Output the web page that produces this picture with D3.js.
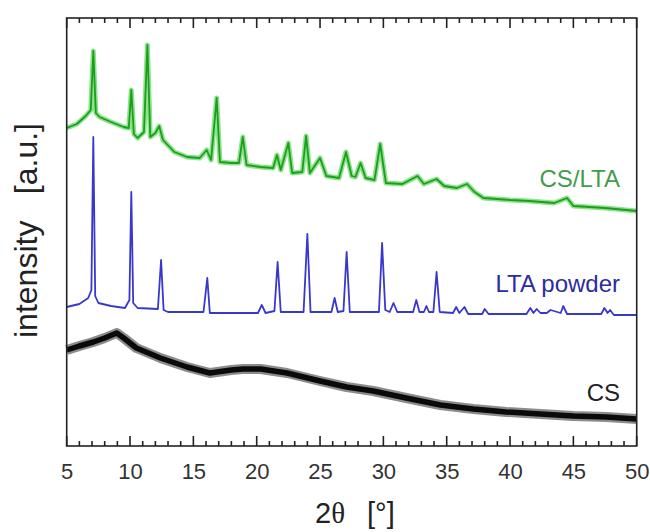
<!DOCTYPE html>
<html>
<head>
<meta charset="utf-8">
<script src="https://cdn.jsdelivr.net/npm/d3@7"></script>
<style>
  html, body { margin: 0; padding: 0; background: #fff; }
  svg { display: block; }
</style>
</head>
<body>
<svg id="chart" width="650" height="532"></svg>
<script>
// ---- data (2θ in degrees, intensity in arbitrary units) ----
const xTickValues = [5, 10, 15, 20, 25, 30, 35, 40, 45, 50];

const seriesNames = ["CS/LTA", "LTA powder", "CS"];

const csltaTheta = [5.0, 5.8, 6.5, 6.9, 7.1, 7.3, 7.6, 8.5, 9.5, 9.9, 10.1, 10.3, 10.6, 11.1, 11.37, 11.6, 12.0, 12.3, 12.6, 13.5, 14.5, 15.5, 16.05, 16.4, 16.84, 17.1, 18.0, 18.6, 18.9, 19.2, 20.3, 21.3, 21.6, 21.9, 22.5, 22.8, 23.6, 23.9, 24.2, 25.0, 25.5, 26.5, 27.05, 27.5, 27.8, 28.2, 28.6, 29.3, 29.75, 30.2, 31.5, 32.7, 33.2, 34.2, 34.8, 35.8, 36.6, 37.2, 37.9, 40.0, 41.5, 43.5, 44.5, 45.0, 47.5, 50.0];
const csltaInt   = [318, 322, 330, 336, 395, 333, 329, 324, 319, 318, 356, 312, 308, 314, 401, 309, 313, 320, 306, 294, 289, 288, 296, 286, 348, 284, 283, 283, 309, 281, 279, 278, 291, 276, 303, 273, 274, 310, 273, 288, 270, 268, 294, 270, 269, 283, 268, 266, 302, 263, 262, 270, 262, 267, 260, 258, 262, 254, 248, 246, 245, 243, 248, 240, 238, 235];

const ltaTheta = [5.0, 6.0, 6.7, 6.95, 7.1, 7.25, 7.5, 8.5, 9.6, 9.95, 10.1, 10.25, 10.6, 12.2, 12.45, 12.65, 13.0, 15.8, 16.1, 16.3, 20.1, 20.4, 20.7, 21.4, 21.65, 21.9, 23.7, 24.0, 24.25, 25.9, 26.15, 26.4, 26.85, 27.1, 27.35, 29.65, 29.9, 30.15, 30.5, 30.8, 31.1, 32.35, 32.6, 32.85, 33.2, 33.4, 33.6, 33.95, 34.2, 34.45, 35.5, 35.75, 36.0, 36.4, 36.7, 37.8, 38.0, 38.3, 41.3, 41.6, 41.85, 42.1, 42.4, 42.9, 43.2, 44.0, 44.2, 44.5, 47.2, 47.45, 47.7, 47.9, 48.2, 50.0];
const ltaInt   = [139, 142, 148, 156, 309, 150, 143, 140, 138, 146, 254, 143, 138, 137, 186, 136, 134, 134, 168, 133, 133, 141, 133, 135, 184, 134, 134, 212, 134, 134, 148, 134, 135, 194, 134, 134, 203, 136, 134, 143, 134, 134, 146, 134, 134, 140, 134, 134, 174, 134, 133, 139, 133, 139, 132, 132, 137, 132, 132, 138, 133, 137, 133, 133, 136, 133, 140, 132, 132, 138, 133, 136, 131, 131];

const csTheta = [5.0, 6.0, 7.1, 8.0, 8.95, 9.5, 10.5, 12.4, 14.5, 16.3, 18.0, 18.9, 20.3, 22.4, 25.0, 27.1, 29.2, 31.8, 34.5, 37.1, 39.7, 42.4, 45.0, 47.6, 50.0];
const csInt   = [96, 100, 104, 108, 113, 108, 98, 88, 79, 73, 76, 77, 77, 73, 65, 59, 55, 48, 41, 37, 34, 32, 30, 29, 27];

// ---- layout ----
const svg = d3.select("#chart");
const mLeft = 66.7, mRight = 636.7, mTop = 18, mBottom = 446;

const x = d3.scaleLinear().domain([5, 50]).range([mLeft, mRight]);
const y = d3.scaleLinear().domain([0, 428]).range([mBottom, mTop]);

const zip = (a, b) => a.map((v, i) => [v, b[i]]);
const line = d3.line().x(d => x(d[0])).y(d => y(d[1]));

const g = svg.append("g");

// CS (black, noisy band)
g.append("path").datum(zip(csTheta, csInt)).attr("d", line)
  .attr("fill", "none").attr("stroke", "#000").attr("stroke-opacity", 0.45)
  .attr("stroke-width", 10).attr("stroke-linejoin", "round");
g.append("path").datum(zip(csTheta, csInt)).attr("d", line)
  .attr("fill", "none").attr("stroke", "#0a0a0a")
  .attr("stroke-width", 5.5).attr("stroke-linejoin", "round");

// LTA powder (blue)
g.append("path").datum(zip(ltaTheta, ltaInt)).attr("d", line)
  .attr("fill", "none").attr("stroke", "#3838cc")
  .attr("stroke-width", 1.8).attr("stroke-linejoin", "round");

// CS/LTA (green)
g.append("path").datum(zip(csltaTheta, csltaInt)).attr("d", line)
  .attr("fill", "none").attr("stroke", "#3fd03f").attr("stroke-opacity", 0.6)
  .attr("stroke-width", 5).attr("stroke-linejoin", "round");
g.append("path").datum(zip(csltaTheta, csltaInt)).attr("d", line)
  .attr("fill", "none").attr("stroke", "#1c9e1c")
  .attr("stroke-width", 1.8).attr("stroke-linejoin", "round");

// ---- axes (bottom with labels, top ticks only; ticks point inward) ----
const minorVals = d3.range(5, 51, 1).filter(v => v % 5 !== 0);
const tickCol = "#333";

function tickPath(vals, len, y0, dir) {
  return vals.map(v => `M${x(v)},${y0}V${y0 + dir * len}`).join("");
}
svg.append("path")
  .attr("d", tickPath(xTickValues, 10, mBottom, -1) + tickPath(minorVals, 5, mBottom, -1) +
             tickPath(xTickValues, 10, mTop, 1) + tickPath(minorVals, 5, mTop, 1))
  .attr("fill", "none").attr("stroke", "#222").attr("stroke-width", 1.6);

const bAxis = svg.append("g").attr("transform", `translate(0,${mBottom})`)
  .call(d3.axisBottom(x).tickValues(xTickValues).tickSize(0).tickPadding(17).tickFormat(d3.format("d")));
bAxis.select(".domain").remove();
bAxis.selectAll(".tick line").remove();
bAxis.selectAll(".tick text")
  .attr("font-family", "'Liberation Sans', Arial, sans-serif")
  .attr("font-size", 22).attr("fill", tickCol);

// frame
svg.append("rect").attr("x", mLeft).attr("y", mTop)
  .attr("width", mRight - mLeft).attr("height", mBottom - mTop)
  .attr("fill", "none").attr("stroke", "#222").attr("stroke-width", 1.6);

// ---- series labels ----
const font = "'Liberation Sans', Arial, sans-serif";
const labelData = [
  { name: seriesNames[0], y: 187, color: "#3f9e4c" },
  { name: seriesNames[1], y: 292, color: "#2c2ca0" },
  { name: seriesNames[2], y: 401, color: "#222" }
];
svg.selectAll(".lbl").data(labelData).enter().append("text")
  .attr("class", "lbl")
  .attr("x", 620).attr("y", d => d.y)
  .attr("text-anchor", "end")
  .attr("font-family", font).attr("font-size", 24)
  .attr("fill", d => d.color)
  .text(d => d.name);

// ---- axis titles ----
const xt = svg.append("text").attr("y", 523)
  .attr("font-family", font).attr("font-size", 29).attr("fill", "#222");
xt.append("tspan").attr("x", 315).text("2");
xt.append("tspan").attr("font-family", "'Liberation Serif', 'DejaVu Serif', serif").text("θ");
xt.append("tspan").attr("x", 367).text("[°]");

const yt = svg.append("g").attr("transform", "translate(37,0) rotate(-90)");
yt.append("text").attr("x", -338).attr("y", 0)
  .attr("font-family", font).attr("font-size", 32).attr("fill", "#222")
  .text("intensity");
yt.append("text").attr("x", -123).attr("y", 0).attr("text-anchor", "end")
  .attr("font-family", font).attr("font-size", 32).attr("fill", "#222")
  .text("[a.u.]");
</script>
</body>
</html>
